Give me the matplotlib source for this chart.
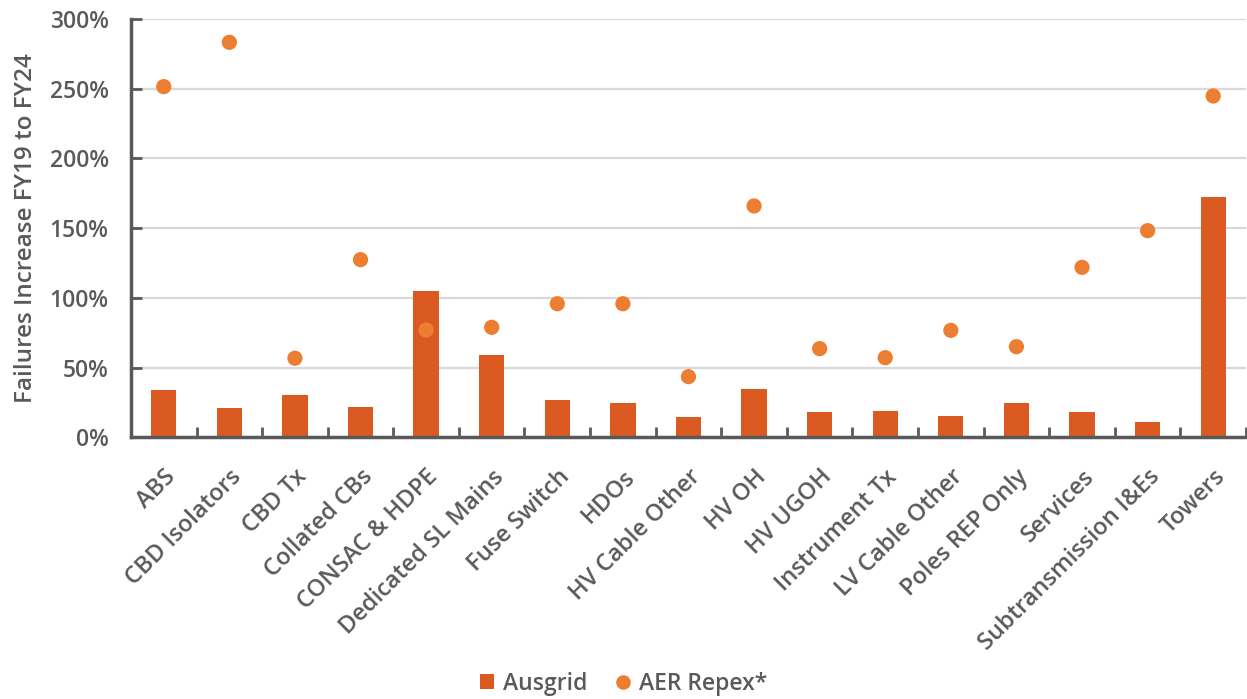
import matplotlib
matplotlib.use("Agg")
import matplotlib.pyplot as plt
from matplotlib.ticker import FuncFormatter, FixedLocator
from matplotlib.lines import Line2D
from matplotlib.patches import Patch

categories = ["ABS", "CBD Isolators", "CBD Tx", "Collated CBs", "CONSAC & HDPE",
              "Dedicated SL Mains", "Fuse Switch", "HDOs", "HV Cable Other", "HV OH",
              "HV UGOH", "Instrument Tx", "LV Cable Other", "Poles REP Only", "Services",
              "Subtransmission I&Es", "Towers"]
ausgrid = [33.7, 21.0, 30.3, 22.0, 105.0, 59.0, 26.8, 24.4, 14.6, 34.4,
           17.9, 18.6, 15.5, 24.8, 17.9, 11.2, 172.4]
aer_repex = [251.5, 283.3, 56.7, 127.4, 77.0, 78.9, 95.8, 95.8, 43.5, 165.9,
             63.6, 57.1, 76.7, 65.0, 121.9, 148.2, 244.8]
y_ticks = [0, 50, 100, 150, 200, 250, 300]

BAR = "#DA5A22"
DOT = "#ED7D31"
TXT = "#595959"
FONT = ["Open Sans", "DejaVu Sans"]
plt.rcParams["font.family"] = FONT

fig = plt.figure(figsize=(12.47, 6.99), dpi=100)
ax = fig.add_axes([0.105, 0.3744, 0.8942, 0.5984])

x = list(range(len(categories)))
ax.bar(x, ausgrid, width=0.385, color=BAR, zorder=2)
ax.scatter(x, aer_repex, s=120, color=DOT, edgecolors="none", zorder=3)

ax.set_xlim(-0.5, len(categories) - 0.5)
ax.set_ylim(0, 300)
ax.set_yticks(y_ticks)
ax.yaxis.set_major_formatter(FuncFormatter(lambda v, p: f"{v:.0f}%"))
ax.grid(axis="y", color="#D9D9D9", linewidth=1.6, zorder=0)
ax.set_axisbelow(True)

ax.set_xticks(x)
ax.set_xticklabels(categories, rotation=45, ha="right", rotation_mode="anchor",
                   fontsize=17, color=TXT, fontweight="semibold")
ax.tick_params(axis="x", which="major", length=0, pad=20)
ax.xaxis.set_minor_locator(FixedLocator([i + 0.5 for i in range(len(categories))]))
ax.tick_params(axis="x", which="minor", direction="in", length=7, width=2, color=TXT)
ax.tick_params(axis="y", direction="in", length=8, width=2, color=TXT,
               labelsize=16.5, labelcolor=TXT, pad=16)
for lbl in ax.get_yticklabels():
    lbl.set_fontweight("semibold")

for side in ("top", "right"):
    ax.spines[side].set_visible(False)
for side in ("left", "bottom"):
    ax.spines[side].set_color(TXT)
    ax.spines[side].set_linewidth(2.5)

ax.set_ylabel("Failures Increase FY19 to FY24", fontsize=17.5, color=TXT,
              fontweight="semibold", labelpad=8)

handles = [Patch(facecolor=BAR, edgecolor="none", label="Ausgrid"),
           Line2D([0], [0], marker="o", linestyle="none", markersize=10.5,
                  markerfacecolor=DOT, markeredgecolor="none", label="AER Repex*")]
fig.legend(handles=handles, loc="center", bbox_to_anchor=(0.5, 0.022), ncol=2,
           frameon=False, labelcolor=TXT, handlelength=0.6,
           handleheight=0.6, handletextpad=0.4, columnspacing=1.25,
           prop={"weight": "semibold", "size": 16.5})

fig.savefig("out.png", dpi=100)
